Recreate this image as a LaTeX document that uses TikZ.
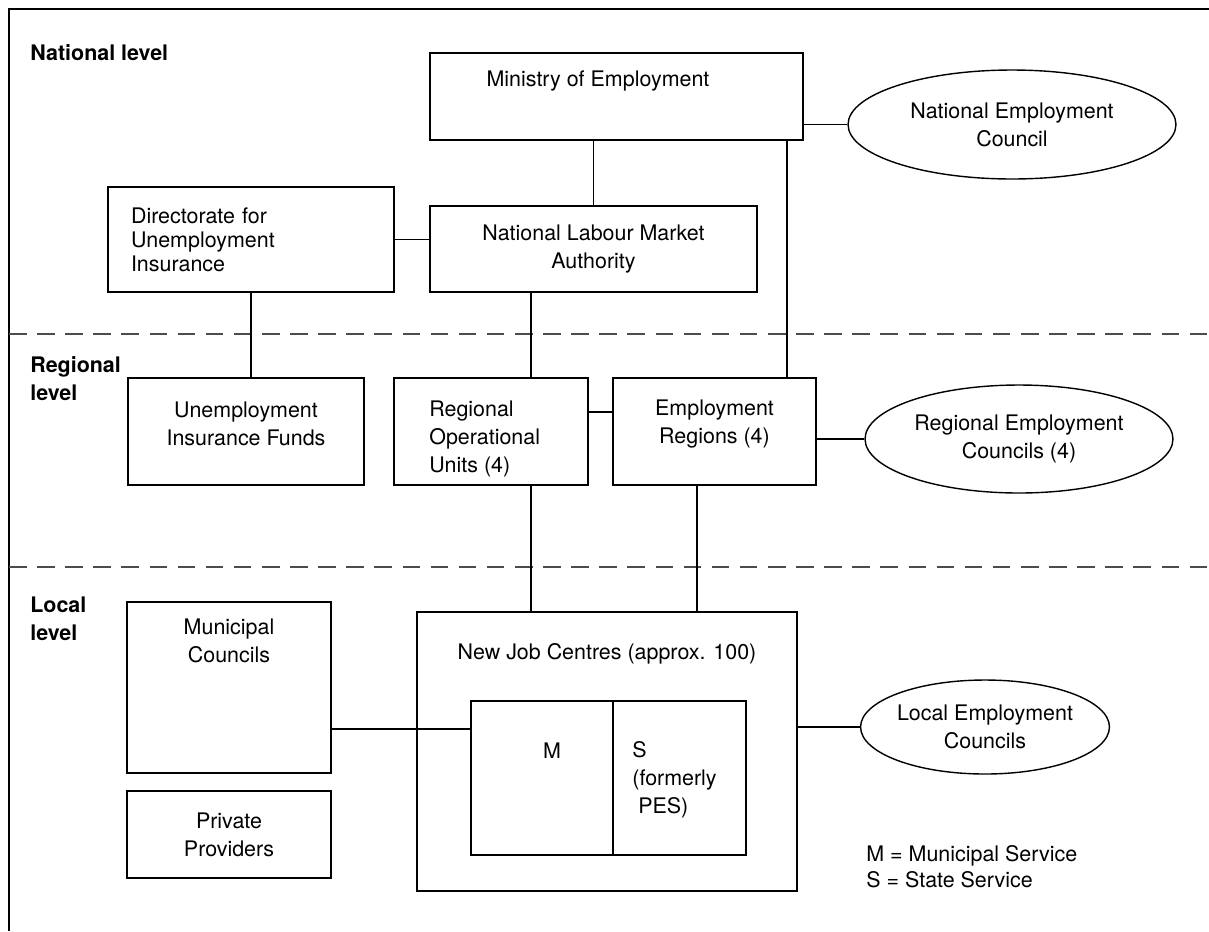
\documentclass[tikz,border=0pt]{standalone}
\usepackage{fontspec}
\setmainfont{TeX Gyre Heros}
\usepackage{tikz}
\usetikzlibrary{shapes.geometric}
\usetikzlibrary{positioning}
\tikzstyle{org_box} = [
    rectangle, 
    draw=black, 
    line width=0.8pt, 
    inner sep=0pt, 
    align=center
]
\tikzstyle{council_ell} = [
    ellipse, 
    draw=black, 
    line width=0.8pt, 
    inner sep=0pt, 
    align=center
]
\tikzstyle{box_text} = [
    inner sep=0pt, 
    font=\fontsize{12.2}{15.9}\selectfont
]
\tikzstyle{level_text} = [
    inner sep=0pt, 
    anchor=base west, 
    align=left, 
    font=\fontsize{12.2}{15.4}\selectfont\bfseries
]
\tikzstyle{level_line} = [
    draw=black!70, 
    line width=0.8pt, 
    dash pattern=on 10pt off 6pt
]

\begin{document}
\begin{tikzpicture}[
    x=0.02cm, y=-0.02cm, 
    font=\fontsize{12.2}{15.9}\selectfont,
    link/.style={draw=black, line width=0.8pt}
]
\useasboundingbox (0,0) rectangle (1209,931);
% frame and level separators
\draw[line width=0.8pt] (1209,9) -- (9,9) -- (9,931);
\draw[level_line] (9,334) -- (1209,334);
\draw[level_line] (9,567) -- (1209,567);

% level labels (base = last line)
\node[level_text] (nat_lbl) at (30,60) {National level};
\node[level_text] (reg_lbl) at (30,400) {Regional\\level};
\node[level_text] (loc_lbl) at (30,640) {Local\\level};

% national level
\node[org_box, minimum width=7.46cm, minimum height=1.74cm] (ministry) at (616.5,96.5) {};
\node[box_text, anchor=base] (ministry_txt) at (598,86) {Ministry of Employment};
\node[council_ell, minimum width=6.56cm, minimum height=2.18cm] (nec) at (1012,124.5) 
    {National Employment\\Council};
\node[org_box, minimum width=6.54cm, minimum height=1.72cm] (nlma) at (593.5,249) 
    {National Labour Market\\Authority};
\node[org_box, minimum width=5.72cm, minimum height=2.10cm, text width=4.80cm, 
    inner xsep=0.46cm, align=left, font=\fontsize{12.2}{13.7}\selectfont] (dir) at (251,239.5) 
    {Directorate for\\Unemployment\\Insurance};

% regional level
\node[org_box, minimum width=4.72cm, minimum height=2.14cm] (uif) at (246,431.5) {};
\node[box_text, anchor=base, align=center] (uif_txt) at (246,445) {Unemployment\\Insurance Funds};
\node[org_box, minimum width=3.88cm, minimum height=2.14cm] (rou) at (491,431.5) {};
\node[box_text, anchor=base west, align=left] (rou_txt) at (429,472) {Regional\\Operational\\Units (4)};
\node[org_box, minimum width=4.06cm, minimum height=2.14cm] (er) at (714.5,431.5) {};
\node[box_text, anchor=base, align=center] (er_txt) at (714.5,443) {Employment\\Regions (4)};
\node[council_ell, minimum width=6.16cm, minimum height=2.16cm] (rec) at (1019,439) 
    {Regional Employment\\Councils (4)};

% local level
\node[org_box, minimum width=4.08cm, minimum height=3.42cm] (mun) at (229,687.5) {};
\node[box_text, anchor=base, align=center] (mun_txt) at (229,662) {Municipal\\Councils};
\node[org_box, minimum width=4.08cm, minimum height=1.74cm] (priv) at (229,834.5) 
    {Private\\Providers};
\node[org_box, minimum width=7.60cm, minimum height=5.58cm] (njc) at (607,751.5) {};
\node[box_text, anchor=base] (njc_txt) at (607,659) {New Job Centres (approx. 100)};
\node[org_box, minimum width=2.84cm, minimum height=3.08cm] (part_m) at (542,778) {};
\node[org_box, minimum width=2.66cm, minimum height=3.08cm] (part_s) at (679.5,778) {};
\node[box_text, anchor=base] (m_txt) at (552,758) {M};
\node[box_text, anchor=base west, align=left] (s_txt) at (632,813) {S\\(formerly\\\ PES)};
\node[council_ell, minimum width=4.68cm, minimum height=1.88cm] (lec) at (985,727) 
    {Local Employment\\Councils};
\node[box_text, anchor=base west, align=left, font=\fontsize{12.2}{14.8}\selectfont] (legend) at (866,887) 
    {M = Municipal Service\\S = State Service};

% connectors
\coordinate (col_a) at (531,0);
\coordinate (col_b) at (697,0);
\coordinate (col_c) at (787,0);
\coordinate (row_a) at (0,412);
\coordinate (row_b) at (0,729);
\draw[link] (nlma.north |- ministry.south) -- (nlma.north);
\draw[link] (nec.west -| ministry.east) -- (nec.west);
\draw[link] (col_c |- ministry.south) -- (col_c |- er.north);
\draw[link] (dir.east) -- (dir.east -| nlma.west);
\draw[link] (dir.south) -- (dir.south |- uif.north);
\draw[link] (col_a |- nlma.south) -- (col_a |- rou.north);
\draw[link] (row_a -| rou.east) -- (row_a -| er.west);
\draw[link] (rec.west -| er.east) -- (rec.west);
\draw[link] (col_a |- rou.south) -- (col_a |- njc.north);
\draw[link] (col_b |- er.south) -- (col_b |- njc.north);
\draw[link] (row_b -| mun.east) -- (row_b -| part_m.west);
\draw[link] (lec.west -| njc.east) -- (lec.west);
\end{tikzpicture}
\end{document}
